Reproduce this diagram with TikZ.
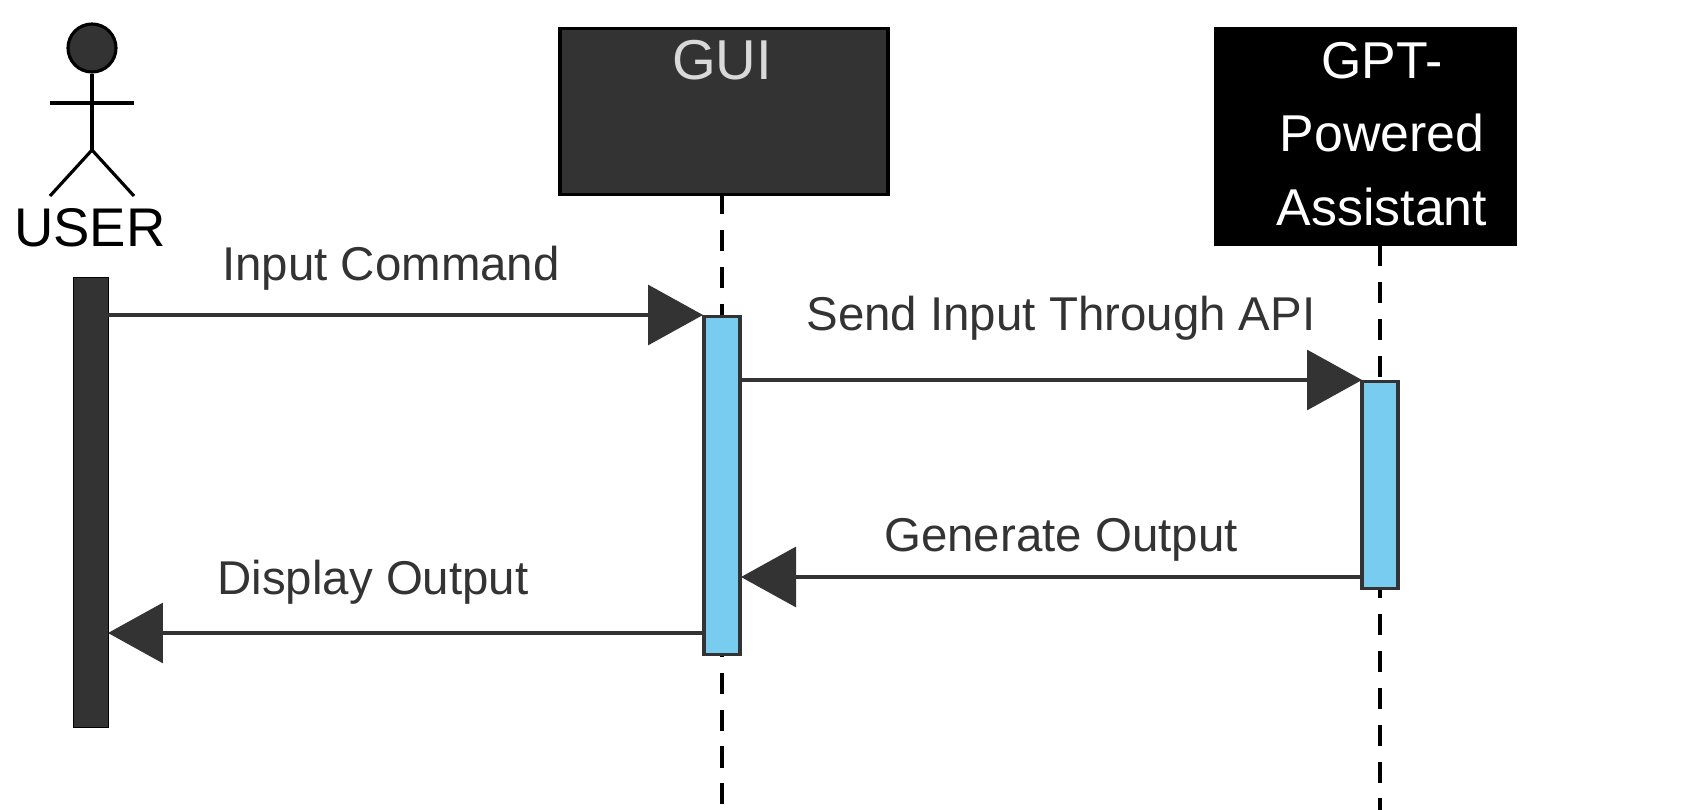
\documentclass[tikz,border=0pt]{standalone}
\usepackage{fontspec}
\setmainfont{Liberation Sans}
\usetikzlibrary{arrows.meta}
\definecolor{dk}{HTML}{333333}
\definecolor{act}{HTML}{77CCF0}
\begin{document}
\begin{tikzpicture}[x=0.02cm,y=-0.02cm,
  lbl/.style={text=dk,font=\fontsize{27}{31}\selectfont},
  msg/.style={draw=dk,line width=1.8pt,-{Triangle[length=1.1cm,width=1.2cm]}},
  life/.style={draw=black,line width=1.8pt,dash pattern=on 12pt off 9pt},
  actbox/.style={draw=dk,line width=1.8pt,fill=act,minimum width=0.72cm,inner sep=0pt}]
\useasboundingbox (0,0) rectangle (1693,810);
% actor
\node[circle,draw=black,fill=dk,line width=1.8pt,minimum size=0.96cm,inner sep=0pt] (head) at (92,48) {};
\coordinate (hip) at (92,150);
\draw[line width=1.8pt] (head.south) -- (hip);
\coordinate (al) at (50,103); \coordinate (ar) at (134,103);
\draw[line width=1.8pt] (al) -- (ar);
\coordinate (fl) at (50,196); \coordinate (fr) at (134,196);
\draw[line width=1.8pt] (fl) -- (hip) -- (fr);
\node[lbl,text=black,font=\fontsize{31}{36}\selectfont] (user) at (90,228) {USER};
\node[draw=black,fill=dk,minimum width=0.7cm,minimum height=9cm,inner sep=0pt,anchor=north] (ubar) at (91,277) {};
% GUI
\node[draw=black,fill=dk,line width=1.8pt,minimum width=6.56cm,minimum height=3.32cm,anchor=north,inner sep=0pt] (gui) at (724,27) {};
\node[text=black!15,font=\fontsize{32}{36}\selectfont] (guit) at (722,60) {GUI};
\coordinate (guiend) at (722,810);
\draw[life] (722,193) -- (guiend);
\node[actbox,minimum height=6.76cm,anchor=north] (guia) at (722,315) {};
% GPT
\node[draw=black,fill=black,minimum width=6.04cm,minimum height=4.36cm,anchor=north,inner sep=0pt] (gpt) at (1365,27) {};
\node[text=white,font=\fontsize{29.5}{42}\selectfont,align=center] (gptt) at (1382,134) {GPT-\\Powered\\Assistant};
\coordinate (gptend) at (1380,810);
\draw[life] (1380,245) -- (gptend);
\node[actbox,minimum height=4.14cm,anchor=north] (gpta) at (1380,380) {};
% messages
\coordinate (m1s) at (108,315); \coordinate (m1e) at (703,315);
\draw[msg] (m1s) -- (m1e);
\node[lbl] (l1) at (391,268) {Input Command};
\coordinate (m2s) at (741,380); \coordinate (m2e) at (1362,380);
\draw[msg] (m2s) -- (m2e);
\node[lbl] (l2) at (1061,318) {Send Input Through API};
\coordinate (m3s) at (1362,577); \coordinate (m3e) at (741,577);
\draw[msg] (m3s) -- (m3e);
\node[lbl] (l3) at (1061,540) {Generate Output};
\coordinate (m4s) at (703,633); \coordinate (m4e) at (108,633);
\draw[msg] (m4s) -- (m4e);
\node[lbl] (l4) at (373,582) {Display Output};
\end{tikzpicture}
\end{document}
